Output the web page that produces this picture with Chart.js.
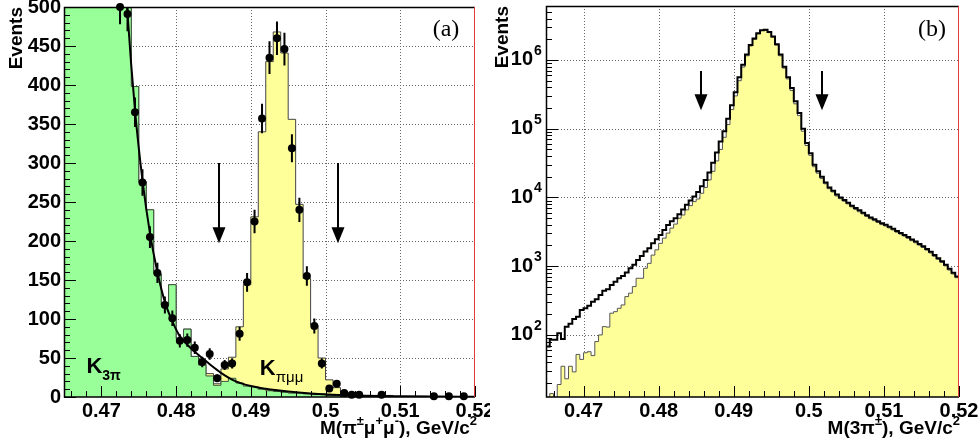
<!DOCTYPE html>
<html>
<head>
<meta charset="utf-8">
<script src="https://cdn.jsdelivr.net/npm/chart.js@4.4.0/dist/chart.umd.min.js"></script>
<style>
  html, body { margin: 0; padding: 0; background: #fff; }
  #wrap { position: relative; width: 980px; height: 445px; }
  canvas { position: absolute; top: 0; }
  #cA { left: 0; }
  #cB { left: 490px; }
</style>
</head>
<body>
<div id="wrap">
  <canvas id="cA" width="490" height="445"></canvas>
  <canvas id="cB" width="490" height="445"></canvas>
</div>
<script>
// axis ticks, shared by both panels
const xTickVals = [0.47, 0.48, 0.49, 0.5, 0.51, 0.52];
const xTickLabels = ['0.47', '0.48', '0.49', '0.5', '0.51', '0.52'];
const yTickValsA = [0, 50, 100, 150, 200, 250, 300, 350, 400, 450, 500];
const yTickValsB = [1e2, 1e3, 1e4, 1e5, 1e6];
const yTickExpB = ['2', '3', '4', '5', '6'];

// selection cuts (arrows)
const cutsX = [0.4857, 0.5017];
const arrowA = [300, 197];
const arrowB = [6.9e5, 1.85e5];

// ---- panel (a): M(pi mu mu), bins of 1 MeV from 0.465 ----
const binLoA = 0.465;
const binWA = 0.001;
const k3piA = [2600, 2200, 1850, 1550, 1300, 1080, 900, 740, 610, 398,
               276, 240, 158, 118, 144, 75, 87, 52, 41, 27,
               15, 20, 24, 18, 14, 13, 10, 8, 7, 6,
               5, 5, 4, 3, 4, 2, 2, 1, 1, 1,
               1, 1, 0, 1, 0, 0, 0, 0, 0, 0,
               0, 0, 0, 0, 0];
const kpimumuA = [0, 0, 0, 0, 0, 0, 0, 0, 0, 0,
                  0, 0, 0, 0, 0, 0, 0, 0, 4, 3,
                  2, 16, 27, 72, 130, 218, 330, 422, 461, 435,
                  351, 242, 148, 89, 46, 20, 10, 5, 3, 2,
                  1, 1, 2, 1, 0, 0, 0, 0, 0, 0,
                  0, 0, 0, 0, 0];
const eventsA = [null, null, null, null, null, null, null, 500, 491, 365,
                 275, 205, 159, 118, 101, 72, 73, 63, 45, 55,
                 24, 41, 43, 81, 147, 225, 357, 435, 460, 446,
                 319, 240, 155, 91, 43, 11, 17, 5, 3, 3,
                 null, null, 3, null, null, null, null, null, null, 1,
                 null, 1, null, 1, null];
const errA = [0, 0, 0, 0, 0, 0, 0, 22, 22, 19,
              17, 14, 13, 11, 10, 8.5, 8.5, 8, 6.7, 7.4,
              4.9, 6.4, 6.6, 9, 12, 15, 19, 21, 21.5, 21,
              18, 15.5, 12.5, 9.5, 6.6, 3.3, 4.1, 2.2, 1.7, 1.7,
              0, 0, 1.7, 0, 0, 0, 0, 0, 0, 1,
              0, 1, 0, 1, 0];
const fitXA = [0.4725, 0.4735, 0.4745, 0.4755, 0.4765, 0.4775, 0.4785, 0.4795, 0.4805, 0.4815,
               0.4825, 0.4835, 0.4845, 0.486, 0.488, 0.49, 0.492, 0.495, 0.498, 0.501,
               0.505, 0.51, 0.515, 0.52];
const fitYA = [660, 492, 368, 278, 210, 160, 122, 97, 78, 67,
               58, 50, 42, 31, 20, 14, 10.5, 7, 4.5, 2.8,
               1.6, 0.9, 0.5, 0.3];

// ---- panel (b): M(3pi), bins of 0.5 MeV from 0.465 ----
const binLoB = 0.465;
const binWB = 0.0005;
const dataB = [68, 85, 85, 106, 87, 132, 145, 170, 184, 230,
               244, 265, 305, 330, 382, 440, 460, 534, 596, 667,
               720, 810, 933, 1045, 1230, 1410, 1630, 1820, 2150, 2460,
               2850, 3370, 3990, 4500, 5000, 5700, 6700, 7800, 9000, 10300,
               12000, 14500, 18000, 23000, 32000, 45000, 65000, 92000, 140000, 220000,
               340000, 560000, 850000, 1200000, 1650000, 2050000, 2450000, 2700000, 2750000, 2550000,
               2200000, 1700000, 1200000, 800000, 560000, 390000, 250000, 170000, 100000, 62000,
               44000, 30000, 24000, 20000, 16500, 14000, 12500, 11000, 10000, 9200,
               8400, 7600, 7000, 6500, 6000, 5500, 5100, 4800, 4500, 4200,
               4000, 3750, 3500, 3250, 3050, 2850, 2650, 2450, 2280, 2100,
               1950, 1780, 1620, 1450, 1310, 1180, 1050, 920, 800, 710];
const mcB = [5, 14, 5, 19, 35, 23, 35, 29, 52, 44,
             55, 57, 50, 80, 100, 132, 130, 207, 218, 244,
             273, 361, 405, 505, 667, 667, 933, 1100, 1450, 1730,
             2150, 2560, 3030, 3580, 4100, 4990, 5560, 6600, 7600, 8700,
             9500, 11500, 14000, 18000, 24000, 34000, 50000, 75000, 115000, 190000,
             300000, 500000, 790000, 1150000, 1600000, 2000000, 2400000, 2680000, 2720000, 2500000,
             2150000, 1650000, 1150000, 760000, 530000, 360000, 230000, 155000, 92000, 57000,
             41000, 28000, 22500, 18800, 15800, 13400, 12000, 10500, 9600, 8800,
             8050, 7300, 6700, 6200, 5750, 5280, 4900, 4600, 4320, 4030,
             3840, 3600, 3360, 3120, 2930, 2740, 2540, 2350, 2190, 2020,
             1870, 1710, 1555, 1390, 1260, 1130, 1010, 880, 770, 680];

const FONT = '"Liberation Sans", Arial, Helvetica, sans-serif';
Chart.defaults.font.family = FONT;
Chart.defaults.color = '#000';

// histogram as a step line: one point per lower bin edge + closing edge
function steps(lo, w, vals) {
  const pts = vals.map((v, i) => ({ x: lo + i * w, y: v }));
  pts.push({ x: lo + vals.length * w, y: vals[vals.length - 1] });
  return pts;
}

function richText(ctx, parts, xRight, yBase, size) {
  const big = 'bold ' + size + 'px ' + FONT;
  const small = 'bold ' + Math.round(size * 0.68) + 'px ' + FONT;
  let total = 0;
  parts.forEach(p => { ctx.font = p[1] ? small : big; total += ctx.measureText(p[0]).width; });
  let cx = xRight - total;
  ctx.textAlign = 'left';
  ctx.textBaseline = 'alphabetic';
  ctx.fillStyle = '#000';
  parts.forEach(p => {
    ctx.font = p[1] ? small : big;
    ctx.fillText(p[0], cx, yBase - (p[1] ? size * 0.45 : 0));
    cx += ctx.measureText(p[0]).width;
  });
}

function drawArrow(ctx, x, y0, y1) {
  const head = 16;
  ctx.strokeStyle = '#000';
  ctx.fillStyle = '#000';
  ctx.lineWidth = 2;
  ctx.beginPath();
  ctx.moveTo(x, y0);
  ctx.lineTo(x, y1 - head + 1);
  ctx.stroke();
  ctx.beginPath();
  ctx.moveTo(x - 6.5, y1 - head);
  ctx.lineTo(x + 6.5, y1 - head);
  ctx.lineTo(x, y1);
  ctx.closePath();
  ctx.fill();
}

// ROOT-like frame: dotted grid, inward ticks, red right edge
function frame(opts) {
  return {
    id: 'frame',
    beforeDatasetsDraw(chart) {
      const { ctx, chartArea: a, scales: { x, y } } = chart;
      ctx.save();
      ctx.strokeStyle = '#666';
      ctx.lineWidth = 1;
      ctx.setLineDash([1, 2]);
      ctx.beginPath();
      xTickVals.forEach(v => {
        const px = Math.round(x.getPixelForValue(v)) + 0.5;
        if (px > a.left + 2 && px < a.right - 2) { ctx.moveTo(px, a.top); ctx.lineTo(px, a.bottom); }
      });
      opts.yGrid.forEach(v => {
        const py = Math.round(y.getPixelForValue(v)) + 0.5;
        if (py > a.top + 2 && py < a.bottom - 2) { ctx.moveTo(a.left, py); ctx.lineTo(a.right, py); }
      });
      ctx.stroke();
      ctx.restore();
    },
    afterDatasetsDraw(chart) {
      const { ctx, chartArea: a, scales: { x, y } } = chart;
      ctx.save();
      ctx.strokeStyle = '#000';
      ctx.lineWidth = 1;
      ctx.beginPath();
      for (let v = 0.466; v <= 0.5201; v += 0.002) {
        const px = Math.round(x.getPixelForValue(v)) + 0.5;
        ctx.moveTo(px, a.bottom); ctx.lineTo(px, a.bottom - 6);
      }
      xTickVals.forEach(v => {
        const px = Math.round(x.getPixelForValue(v)) + 0.5;
        ctx.moveTo(px, a.bottom); ctx.lineTo(px, a.bottom - 11);
      });
      opts.yMinor.forEach(v => {
        const py = Math.round(y.getPixelForValue(v)) + 0.5;
        ctx.moveTo(a.left, py); ctx.lineTo(a.left + 6, py);
      });
      opts.yGrid.forEach(v => {
        const py = Math.round(y.getPixelForValue(v)) + 0.5;
        ctx.moveTo(a.left, py); ctx.lineTo(a.left + 12, py);
      });
      ctx.stroke();
      ctx.lineWidth = 1.5;
      ctx.beginPath();
      ctx.moveTo(a.right, a.top + 0.5);
      ctx.lineTo(a.left + 0.5, a.top + 0.5);
      ctx.lineTo(a.left + 0.5, a.bottom);
      ctx.lineTo(a.right, a.bottom);
      ctx.stroke();
      ctx.strokeStyle = '#e03c3c';
      ctx.lineWidth = 1;
      ctx.beginPath();
      ctx.moveTo(a.right - 0.5, a.top);
      ctx.lineTo(a.right - 0.5, a.bottom);
      ctx.stroke();
      opts.extra(chart);
      ctx.restore();
    }
  };
}

function xScale(extraH) {
  return {
    type: 'linear', min: 0.465, max: 0.52,
    afterBuildTicks: s => { s.ticks = xTickVals.map(v => ({ value: v })); },
    afterFit: s => { s.height = extraH; s.paddingLeft = 0; s.paddingRight = 0; },
    grid: { display: false, drawTicks: false }, border: { display: false },
    ticks: { padding: 2, maxRotation: 0, autoSkip: false, font: { size: 20, weight: 'bold' },
             callback: (v, i) => xTickLabels[i] }
  };
}

// ---------------- panel (a) ----------------
const minorA = [];
for (let v = 0; v <= 500; v += 10) minorA.push(v);
const labK3pi = { x: 0.468, y: 31 };
const labKpmm = { x: 0.4912, y: 28 };

new Chart(document.getElementById('cA'), {
  type: 'line',
  data: {
    datasets: [
      { type: 'line', stack: 'pts', showLine: false, clip: 8,
        data: eventsA.map((v, i) => ({ x: binLoA + (i + 0.5) * binWA, y: v })),
        pointRadius: 4, pointBackgroundColor: '#000', pointBorderColor: '#000', pointBorderWidth: 0 },
      { type: 'line', stack: 'fit', clip: 0,
        data: fitXA.map((v, i) => ({ x: v, y: fitYA[i] })),
        borderColor: '#000', borderWidth: 2, pointRadius: 0, cubicInterpolationMode: 'monotone', fill: false },
      { type: 'line', stack: 'mc', clip: 0, stepped: 'before',
        data: steps(binLoA, binWA, k3piA),
        borderColor: '#3c503c', borderWidth: 1, backgroundColor: '#99ff99', pointRadius: 0, fill: 'origin' },
      { type: 'line', stack: 'mc', clip: 0, stepped: 'before',
        data: steps(binLoA, binWA, kpimumuA),
        borderColor: '#444', borderWidth: 1, backgroundColor: '#ffff99', pointRadius: 0, fill: '-1' }
    ]
  },
  options: {
    responsive: false, animation: false, events: [],
    layout: { padding: { left: 0, right: 15, top: 7, bottom: 0 } },
    plugins: { legend: { display: false }, tooltip: { enabled: false } },
    scales: {
      x: xScale(48),
      y: {
        min: 0, max: 500, stacked: true,
        afterBuildTicks: s => { s.ticks = yTickValsA.map(v => ({ value: v })); },
        afterFit: s => { s.width = 64; s.paddingTop = 0; s.paddingBottom = 0; },
        grid: { display: false, drawTicks: false }, border: { display: false },
        ticks: { padding: 3, autoSkip: false, font: { size: 20, weight: 'bold' } },
        title: { display: true, text: 'Events', align: 'end', font: { size: 19, weight: 'bold' }, padding: { top: 5 } }
      }
    }
  },
  plugins: [frame({
    yGrid: yTickValsA, yMinor: minorA,
    extra(chart) {
      const { ctx, chartArea: a, scales: { x, y } } = chart;
      // error bars
      ctx.save();
      ctx.beginPath();
      ctx.rect(a.left, a.top, a.right - a.left, a.bottom - a.top);
      ctx.clip();
      ctx.strokeStyle = '#000';
      ctx.lineWidth = 2;
      ctx.beginPath();
      eventsA.forEach((v, i) => {
        if (v === null || !errA[i]) return;
        const px = x.getPixelForValue(binLoA + (i + 0.5) * binWA);
        ctx.moveTo(px, y.getPixelForValue(v + errA[i]));
        ctx.lineTo(px, y.getPixelForValue(Math.max(v - errA[i], 0)));
      });
      ctx.stroke();
      ctx.restore();
      cutsX.forEach(c => drawArrow(ctx, Math.round(x.getPixelForValue(c)), y.getPixelForValue(arrowA[0]), y.getPixelForValue(arrowA[1])));
      // component labels
      ctx.fillStyle = '#000';
      ctx.textAlign = 'left';
      ctx.textBaseline = 'alphabetic';
      let px = x.getPixelForValue(labK3pi.x), py = y.getPixelForValue(labK3pi.y);
      ctx.font = 'bold 22px ' + FONT;
      ctx.fillText('K', px, py);
      let w = ctx.measureText('K').width;
      ctx.font = 'bold 14px ' + FONT;
      ctx.fillText('3π', px + w, py + 7);
      px = x.getPixelForValue(labKpmm.x); py = y.getPixelForValue(labKpmm.y);
      ctx.font = 'bold 22px ' + FONT;
      ctx.fillText('K', px, py);
      w = ctx.measureText('K').width;
      ctx.font = '15px ' + FONT;
      ctx.fillText('πμμ', px + w, py + 7);
      ctx.font = '24px "Liberation Serif", "DejaVu Serif", serif';
      ctx.textAlign = 'center';
      ctx.textBaseline = 'middle';
      ctx.fillText('(a)', a.right - 29, a.top + 23);
      richText(ctx, [['M(π', 0], ['±', 1], ['μ', 0], ['+', 1], ['μ', 0], ['-', 1], ['), GeV/c', 0], ['2', 1]], 477, 434, 19);
    }
  })]
});

// ---------------- panel (b) ----------------
const minorB = [];
for (let n = 1; n <= 6; n++) for (let m = 2; m <= 9; m++) minorB.push(m * Math.pow(10, n));

new Chart(document.getElementById('cB'), {
  type: 'line',
  data: {
    datasets: [
      { type: 'line', clip: 0, stepped: 'before',
        data: steps(binLoB, binWB, dataB),
        borderColor: '#000', borderWidth: 2, pointRadius: 0, fill: false },
      { type: 'line', clip: 0, stepped: 'before',
        data: steps(binLoB, binWB, mcB),
        borderColor: '#555', borderWidth: 1, backgroundColor: '#ffff99', pointRadius: 0, fill: 'origin' }
    ]
  },
  options: {
    responsive: false, animation: false, events: [],
    layout: { padding: { left: 0, right: 21, top: 6, bottom: 0 } },
    plugins: { legend: { display: false }, tooltip: { enabled: false } },
    scales: {
      x: xScale(48),
      y: {
        type: 'logarithmic', min: 12.5, max: 6.1e6,
        afterBuildTicks: s => { s.ticks = yTickValsB.map(v => ({ value: v })); },
        afterFit: s => { s.width = 56; s.paddingTop = 0; s.paddingBottom = 0; },
        grid: { display: false, drawTicks: false }, border: { display: false },
        ticks: { padding: 13, autoSkip: false, font: { size: 20, weight: 'bold' }, callback: () => '10' },
        title: { display: true, text: 'Events', align: 'end', font: { size: 19, weight: 'bold' }, padding: { top: 1 } }
      }
    }
  },
  plugins: [frame({
    yGrid: yTickValsB, yMinor: minorB.filter(v => v < 6.1e6),
    extra(chart) {
      const { ctx, chartArea: a, scales: { x, y } } = chart;
      ctx.fillStyle = '#000';
      ctx.font = 'bold 14px ' + FONT;
      ctx.textAlign = 'left';
      ctx.textBaseline = 'middle';
      yTickValsB.forEach((v, i) => ctx.fillText(yTickExpB[i], a.left - 12, y.getPixelForValue(v) - 9));
      cutsX.forEach(c => drawArrow(ctx, Math.round(x.getPixelForValue(c)), y.getPixelForValue(arrowB[0]), y.getPixelForValue(arrowB[1])));
      ctx.font = '24px "Liberation Serif", "DejaVu Serif", serif';
      ctx.textAlign = 'center';
      ctx.fillText('(b)', a.right - 27, a.top + 24);
      richText(ctx, [['M(3π', 0], ['±', 1], ['), GeV/c', 0], ['2', 1]], 470, 434, 19);
    }
  })]
});
</script>
</body>
</html>
